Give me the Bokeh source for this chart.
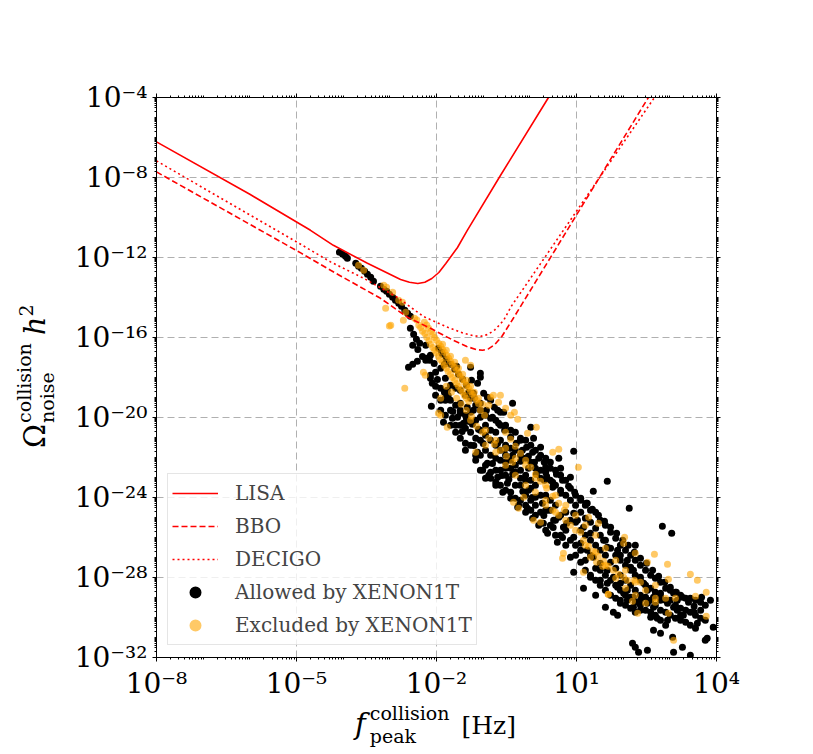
import numpy as np
from bokeh.plotting import figure
from bokeh.models import (FixedTicker, LogAxis, Legend, LegendItem, Div,
                          CustomJSTickFormatter, Range1d)
from bokeh.layouts import row, column
from bokeh.embed import file_html
from bokeh.resources import INLINE

# ---------------- data (log10 values) ----------------
lisa_log_f = [-8.0, -6.0, -4.70, -4.21, -3.48, -2.77, -2.58, -2.40, -2.25, -2.10, -1.95, -1.80, -1.55, -1.34, -0.63, 0.40]
lisa_log_omega = [-6.22, -8.84, -10.64, -11.39, -12.29, -13.10, -13.24, -13.30, -13.24, -13.05, -12.75, -12.30, -11.50, -10.64, -7.90, -4.0]

bbo_log_f = [-8.0, -4.91, -4.27, -3.20, -2.62, -2.13, -1.64, -1.35, -1.15, -1.01, -0.88, -0.75, -0.60, -0.37, 2.54]
bbo_log_omega = [-7.72, -11.77, -12.64, -14.04, -14.99, -15.54, -16.14, -16.45, -16.60, -16.64, -16.56, -16.35, -15.95, -15.10, -4.0]

decigo_log_f = [-8.0, -4.91, -4.27, -3.56, -2.84, -2.28, -1.76, -1.42, -1.20, -1.05, -0.90, -0.75, -0.56, -0.40, 2.67]
decigo_log_omega = [-7.17, -11.34, -12.22, -13.04, -13.99, -14.95, -15.49, -15.79, -15.92, -15.94, -15.85, -15.62, -15.14, -14.45, -4.0]

allowed_points = [
    (-4.08, -11.74), (-4.01, -11.84), (-3.95, -11.94), (-3.91, -12.04),
    (-3.73, -12.29), (-3.67, -12.44), (-3.61, -12.54), (-3.54, -12.69), (-3.48, -12.84), (-3.41, -12.99), (-3.35, -13.19),
    (-3.20, -13.44), (-3.13, -13.59), (-3.07, -13.69), (-3.01, -13.84), (-2.94, -13.99), (-2.88, -14.14), (-2.81, -14.29),
    (-2.75, -14.44), (-2.68, -14.64), (-2.62, -14.79), (-2.56, -14.94),
    (-2.56, -15.54), (-2.49, -15.84), (-2.43, -16.09), (-2.36, -16.29), (-2.51, -16.39), (-2.60, -17.49), (-2.51, -17.34),
    (-2.41, -17.19), (-2.21, -17.04), (-2.15, -17.14), (-2.13, -18.04), (-2.09, -18.29), (-2.02, -18.44), (-1.91, -18.54),
    (-1.83, -18.74), (-1.77, -18.64), (-2.11, -19.44), (-1.91, -19.64), (-1.85, -20.24),
    (-1.96, -16.54), (-1.87, -16.84), (-1.79, -17.09), (-1.70, -17.34), (-1.61, -17.59), (-1.53, -17.84), (-1.44, -18.09), (-1.36, -18.39),
    (-1.89, -16.74), (-1.83, -17.34), (-1.57, -17.44), (-1.27, -17.49), (-1.25, -18.14), (-1.12, -18.29), (-1.06, -17.99),
    (-0.99, -18.79), (-0.91, -18.99), (-0.84, -19.14), (-0.76, -19.49), (-0.69, -19.64), (-0.63, -19.74), (-1.21, -18.79),
    (-1.21, -19.64), (-1.06, -19.99), (-1.49, -19.29), (-1.34, -19.49), (-1.55, -19.99), (-1.42, -20.29),
    (-1.81, -19.14), (-1.70, -19.64), (-1.66, -20.04), (-1.59, -20.39), (-1.49, -21.04), (-1.38, -21.29), (-1.27, -20.74),
    (-1.12, -21.74), (-0.91, -22.29), (-0.84, -23.04), (-0.69, -22.99), (-0.48, -23.29), (-0.26, -24.49), (-0.05, -24.54), (0.29, -25.29),
    (-1.06, -17.79), (-0.37, -19.29), (-0.56, -19.74), (0.02, -20.49), (0.08, -21.04), (0.23, -21.49), (0.34, -22.49),
    (0.62, -22.04), (0.66, -22.54), (0.87, -22.99), (0.94, -21.69), (1.23, -24.29),
    (-1.06, -20.64), (-0.95, -20.89), (-0.84, -21.14), (-0.73, -21.39), (-0.63, -21.64), (-0.52, -21.89), (-0.41, -22.14),
    (-0.31, -22.39), (-0.20, -22.64), (-0.09, -22.89), (0.02, -23.14),
    (-1.49, -19.79), (-1.36, -20.04), (-1.23, -20.34), (-1.10, -20.59), (-0.69, -21.29), (-0.54, -21.59), (-0.37, -21.89),
    (-0.20, -22.19), (-0.03, -22.54), (0.14, -22.84), (0.31, -23.14), (0.49, -23.49), (0.66, -23.79),
    (-1.31, -18.74), (-1.19, -19.04), (-1.06, -19.29), (-0.93, -19.64), (-0.80, -19.99), (-0.67, -20.29), (-0.54, -20.64),
    (-0.41, -20.99), (-0.29, -21.29), (-0.16, -21.64), (-0.03, -21.94), (0.10, -22.24), (0.23, -22.64), (0.36, -22.94), (0.49, -23.24),
    (-0.63, -22.14), (-0.52, -22.54), (-0.37, -22.84), (-0.20, -23.39), (-0.03, -23.64), (0.12, -23.99), (0.27, -24.29),
    (0.44, -24.64), (0.62, -24.99), (0.79, -25.29),
    (-1.16, -22.14), (-1.01, -22.64), (-0.88, -22.89), (-0.73, -23.39), (-0.58, -23.74), (-0.41, -24.04), (-0.24, -24.39),
    (-0.09, -24.74), (0.06, -25.04), (0.19, -25.39),
    (-0.20, -21.14), (-0.07, -21.49), (0.06, -21.74), (0.19, -22.04), (0.31, -22.24), (0.44, -22.54), (0.57, -22.84),
    (0.70, -23.14), (0.83, -23.44), (0.96, -23.74), (1.09, -24.04), (1.21, -24.29), (1.34, -24.59), (1.47, -24.89),
    (1.60, -25.19), (1.73, -25.49), (1.86, -25.79), (1.99, -26.14), (2.11, -26.39), (2.24, -26.74), (2.37, -27.04),
    (2.50, -27.29), (2.63, -27.64), (2.76, -27.94), (2.89, -28.24), (3.01, -28.49), (3.14, -28.74), (3.27, -28.99),
    (3.40, -29.24), (3.52, -29.44), (3.66, -29.64),
    (0.38, -24.64), (0.51, -25.14), (0.72, -25.49), (0.94, -25.99), (1.09, -26.29), (1.23, -26.64), (1.36, -26.99),
    (1.51, -27.29), (1.66, -27.64), (1.79, -27.99), (1.94, -28.29), (2.09, -28.64), (2.22, -28.99), (2.37, -29.14),
    (2.52, -29.29), (2.65, -29.49), (2.80, -29.14), (2.95, -29.29), (3.08, -29.49), (3.16, -29.64), (3.23, -29.89),
    (0.94, -24.79), (1.02, -25.14), (1.15, -25.49), (1.30, -25.79), (1.58, -26.14), (1.66, -26.49), (1.88, -26.64),
    (1.94, -26.89), (2.09, -27.14), (2.16, -27.49), (2.22, -27.64), (2.37, -27.99), (2.44, -28.29), (2.52, -28.64),
    (2.65, -28.99), (2.80, -28.79), (3.08, -28.79), (3.16, -29.14),
    (0.23, -25.29), (0.38, -25.79), (0.59, -26.24), (0.87, -26.99), (0.94, -27.74), (1.15, -28.54), (1.41, -28.89),
    (1.30, -27.99), (1.51, -28.14), (1.66, -28.29), (1.88, -28.49), (2.01, -28.79), (2.09, -29.14), (1.94, -29.29),
    (2.22, -29.49), (2.37, -29.64),
    (2.13, -24.54), (2.84, -25.44), (3.04, -25.79), (2.26, -26.39), (3.68, -28.99), (1.62, -29.49), (1.79, -29.74),
    (1.88, -29.89), (2.59, -29.99), (2.73, -30.04), (2.95, -30.14), (3.29, -29.89), (3.59, -30.29), (3.93, -30.49),
    (2.65, -30.64), (2.80, -30.79), (3.06, -30.99), (3.27, -31.49), (2.20, -31.29), (2.26, -31.49), (2.33, -31.74),
    (2.52, -31.64), (3.08, -31.74), (3.44, -31.89), (3.76, -31.14), (3.80, -31.04), (1.66, -23.19), (1.36, -23.69),
    (3.87, -29.14), (3.52, -29.74),
    (-2.23, -16.39), (-2.23, -17.14), (-2.02, -17.74), (-2.02, -18.89), (-1.81, -18.04), (-1.81, -19.04), (-1.81, -19.89),
    (-1.59, -18.54), (-1.59, -19.39), (-1.59, -20.74), (-1.38, -18.89), (-1.38, -19.89), (-1.38, -20.54), (-1.38, -21.64),
    (-1.16, -19.39), (-1.16, -20.14), (-1.16, -21.04), (-1.16, -21.89), (-0.95, -19.89), (-0.95, -20.39), (-0.95, -21.64),
    (-0.95, -22.39), (-0.95, -23.04), (-0.73, -20.14), (-0.73, -20.74), (-0.73, -22.04), (-0.73, -22.64), (-0.73, -23.24),
    (-0.52, -20.39), (-0.52, -21.39), (-0.52, -22.24), (-0.52, -22.89), (-0.52, -23.64), (-0.31, -20.74), (-0.31, -21.64),
    (-0.31, -22.74), (-0.31, -23.39), (-0.31, -24.04), (-0.09, -21.14), (-0.09, -22.04), (-0.09, -23.14), (-0.09, -23.89),
    (-0.09, -24.39), (0.12, -21.64), (0.12, -22.54), (0.12, -23.39), (0.12, -24.39), (0.12, -24.89), (0.34, -22.04),
    (0.34, -22.74), (0.34, -23.89), (0.34, -24.64), (0.34, -25.64), (0.55, -22.64), (0.55, -23.39), (0.55, -24.39),
    (0.55, -25.14), (0.55, -25.89), (0.77, -23.14), (0.77, -23.89), (0.77, -24.74), (0.77, -25.64), (0.77, -26.39),
    (0.98, -23.89), (0.98, -24.39), (0.98, -25.24), (0.98, -26.39), (0.98, -26.89), (1.19, -24.39), (1.19, -25.04),
    (1.19, -25.89), (1.19, -27.14), (1.19, -27.64), (1.41, -24.74), (1.41, -25.54), (1.41, -26.39), (1.41, -27.54),
    (1.41, -28.14), (1.62, -25.39), (1.62, -26.14), (1.62, -26.89), (1.62, -27.89), (1.62, -28.64), (1.84, -26.04),
    (1.84, -26.89), (1.84, -27.54), (1.84, -28.39), (1.84, -29.04), (2.05, -26.64), (2.05, -27.39), (2.05, -28.14),
    (2.05, -28.89), (2.05, -29.39), (2.26, -27.14), (2.26, -27.89), (2.26, -28.64), (2.26, -29.24), (2.26, -29.74),
    (2.48, -27.64), (2.48, -28.39), (2.48, -28.99), (2.48, -29.64), (2.69, -28.04), (2.69, -28.74), (2.69, -29.39),
    (2.69, -29.89), (2.91, -28.54), (2.91, -29.14), (2.91, -29.74), (2.91, -30.39), (3.12, -28.74), (3.12, -29.39),
    (3.12, -30.04), (3.34, -29.04), (3.34, -29.64), (3.34, -30.24), (3.55, -29.14), (3.55, -29.89), (3.55, -30.54),
    (3.76, -29.39), (3.76, -30.14),
    (-2.13, -16.89), (-2.13, -17.89), (-1.91, -17.54), (-1.91, -19.14), (-1.70, -18.39), (-1.70, -19.14), (-1.70, -20.39),
    (-1.49, -18.64), (-1.49, -19.64), (-1.49, -20.39), (-1.27, -19.04), (-1.27, -19.74), (-1.27, -21.39), (-1.06, -19.64),
    (-1.06, -21.14), (-1.06, -21.89), (-1.06, -22.64), (-0.84, -20.04), (-0.84, -20.64), (-0.84, -21.89), (-0.84, -22.74),
    (-0.63, -20.39), (-0.63, -21.14), (-0.63, -22.64), (-0.63, -23.39), (-0.41, -20.64), (-0.41, -21.54), (-0.41, -22.54),
    (-0.41, -23.74), (-0.20, -21.04), (-0.20, -21.89), (-0.20, -23.04), (-0.20, -24.14), (0.02, -21.39), (0.02, -22.24),
    (0.02, -23.54), (0.02, -24.14), (0.02, -24.64), (0.23, -21.89), (0.23, -23.04), (0.23, -23.89), (0.23, -24.74),
    (0.44, -22.24), (0.44, -23.14), (0.44, -24.14), (0.44, -25.39), (0.66, -22.89), (0.66, -23.64), (0.66, -24.89),
    (0.66, -25.89), (0.87, -23.54), (0.87, -24.14), (0.87, -25.14), (0.87, -26.14), (1.09, -24.14), (1.09, -24.74),
    (1.09, -25.64), (1.09, -26.64), (1.09, -27.24), (1.30, -24.64), (1.30, -25.24), (1.30, -26.14), (1.30, -26.89),
    (1.30, -27.89), (1.51, -25.14), (1.51, -25.89), (1.51, -26.64), (1.51, -27.64), (1.51, -28.39), (1.73, -25.74),
    (1.73, -26.54), (1.73, -27.24), (1.73, -28.14), (1.73, -28.89), (1.94, -26.39), (1.94, -27.14), (1.94, -27.89),
    (1.94, -28.64), (1.94, -29.14), (2.16, -26.89), (2.16, -27.64), (2.16, -28.39), (2.16, -28.99), (2.16, -29.54),
    (2.37, -27.39), (2.37, -28.14), (2.37, -28.89), (2.37, -29.39), (2.59, -27.89), (2.59, -28.54), (2.59, -29.14),
    (2.59, -29.74), (2.80, -28.24), (2.80, -28.94), (2.80, -29.64), (2.80, -30.14), (3.01, -28.64), (3.01, -29.14),
    (3.01, -29.89), (3.23, -28.89), (3.23, -29.54), (3.23, -30.14), (3.44, -29.04), (3.44, -29.74), (3.44, -30.39),
    (3.66, -29.24), (3.66, -30.04),
    (-2.40, -16.60), (-2.30, -16.95), (-2.05, -17.30), (-1.98, -18.10), (-1.75, -18.90), (-1.65, -19.70),
    (-1.45, -20.70), (-1.30, -20.20), (-1.20, -21.40), (-1.00, -21.30), (-0.80, -22.30), (-0.60, -22.90),
    (-0.45, -23.10), (-0.15, -23.70), (0.05, -24.00), (0.30, -24.90), (0.50, -25.50), (0.70, -26.00),
]

excluded_points = [
    (-3.67, -12.39), (-3.56, -12.64), (-3.13, -13.39), (-3.07, -13.49), (-2.94, -13.74), (-2.81, -14.14), (-2.73, -14.24),
    (-2.66, -14.74), (-3.09, -14.54), (-3.01, -15.43), (-2.71, -15.14), (-2.68, -18.54), (-2.98, -15.39), (-2.28, -17.74),
    (-2.24, -17.89), (-1.91, -19.04), (-1.96, -19.79), (-1.38, -17.14), (-1.27, -17.39),
    (-2.47, -15.04), (-2.38, -15.39), (-2.30, -15.69), (-2.21, -15.99), (-2.13, -16.34), (-2.04, -16.64), (-1.96, -16.94),
    (-1.87, -17.24), (-1.79, -17.54), (-1.70, -17.84), (-1.61, -18.14), (-1.53, -18.44), (-1.44, -18.74), (-1.36, -19.04),
    (-2.26, -15.24), (-2.17, -15.54), (-2.08, -15.84), (-2.00, -16.14), (-1.91, -16.44), (-1.83, -16.74), (-1.74, -17.04),
    (-1.66, -17.34), (-1.57, -17.64), (-1.49, -17.94), (-1.40, -18.24), (-1.31, -18.54), (-1.23, -18.84), (-1.14, -19.14),
    (-1.87, -16.34), (-1.79, -16.64), (-1.70, -16.94), (-1.61, -17.24), (-1.53, -17.54), (-1.44, -17.84), (-1.36, -18.14),
    (-1.27, -18.44), (-1.19, -18.74), (-1.10, -19.04), (-1.01, -19.34), (-1.06, -19.64), (-0.97, -19.89),
    (-2.42, -15.12), (-2.34, -15.50), (-2.25, -15.80), (-2.16, -16.15), (-2.08, -16.50), (-2.00, -16.78), (-1.92, -17.10),
    (-1.83, -17.40), (-1.75, -17.70), (-1.66, -18.00), (-1.57, -18.30), (-1.48, -18.60), (-1.40, -18.90), (-1.31, -19.20),
    (-2.21, -15.38), (-2.12, -15.70), (-2.04, -16.00), (-1.95, -16.30), (-1.87, -16.60), (-1.78, -16.90), (-1.70, -17.20),
    (-1.62, -17.50), (-1.53, -17.80), (-1.45, -18.10), (-1.36, -18.40), (-1.27, -18.70), (-1.19, -19.00), (-1.10, -19.30),
    (-1.79, -18.44), (-1.68, -18.74), (-1.57, -19.04), (-1.47, -19.34), (-1.36, -19.64), (-1.25, -19.94),
    (-1.27, -20.14), (-1.14, -20.44), (-1.01, -20.74), (-0.88, -21.04), (-0.76, -21.34), (-0.63, -21.64), (-0.50, -21.94), (-0.37, -22.24),
    (-0.52, -20.74), (-0.41, -21.09), (-0.31, -21.44), (-0.20, -21.79), (-0.09, -22.14), (0.02, -22.49), (0.12, -22.84),
    (0.23, -23.19), (0.36, -23.54), (0.49, -23.94), (0.62, -24.29), (0.74, -24.64),
    (-0.78, -18.89), (-0.67, -19.24), (-0.52, -19.54), (-0.41, -19.89), (-0.88, -19.39),
    (0.34, -24.39), (0.49, -24.64), (0.62, -24.89), (1.15, -26.14), (1.26, -26.44), (1.36, -26.69), (1.47, -26.94),
    (1.58, -27.19), (1.68, -27.44), (1.79, -27.64), (1.90, -27.84), (2.01, -27.99), (1.30, -26.99), (1.43, -27.24),
    (1.56, -27.44), (1.09, -25.74), (0.87, -25.39), (2.09, -28.14), (2.24, -28.14), (2.37, -28.24),
    (1.47, -25.29), (1.26, -24.99), (2.03, -25.99), (2.01, -26.29), (2.26, -26.79), (2.67, -26.84), (2.52, -27.24),
    (2.95, -27.34), (2.97, -28.09), (3.44, -27.84), (3.59, -28.14), (3.55, -28.94), (3.78, -28.74), (3.78, -29.94),
    (1.68, -28.84), (1.68, -28.84), (2.20, -29.19), (2.31, -29.79), (2.69, -29.24), (2.97, -29.79), (3.08, -31.14),
    (0.72, -26.79), (1.15, -27.74), (0.70, -27.04), (0.49, -21.74), (0.62, -21.59), (1.04, -22.49), (-0.05, -20.79),
    (0.14, -20.49), (-0.26, -20.09), (-0.33, -19.74), (-1.77, -20.49), (-1.91, -19.89), (-1.16, -21.74),
    (-0.13, -23.99), (-0.35, -24.24), (-0.24, -24.54), (0.08, -25.14), (0.23, -25.24), (-0.63, -18.89), (-0.84, -18.99),
    (-0.95, -20.64), (-0.95, -21.39), (-0.73, -21.14), (-0.73, -21.74), (-0.52, -21.54), (-0.52, -22.39), (-0.31, -22.04),
    (-0.31, -22.89), (-0.09, -22.39), (-0.09, -23.39), (0.12, -23.04), (0.12, -23.74), (0.34, -23.39), (0.34, -24.14),
    (0.55, -23.89), (0.55, -24.74), (0.77, -24.39), (0.77, -25.14), (0.98, -24.89), (0.98, -25.64), (1.19, -25.39),
    (1.19, -26.39), (1.41, -25.89), (1.41, -26.74), (1.62, -26.54), (1.62, -27.39), (1.84, -27.14), (1.84, -28.04),
    (2.05, -27.64), (2.05, -28.54), (2.26, -28.24), (2.26, -28.89), (2.48, -28.64), (2.48, -29.29), (2.69, -28.39),
    (2.69, -29.04), (2.91, -29.04), (3.12, -29.04),
]

x_major = [1e-8, 1e-5, 1e-2, 1e1, 1e4]
y_major = [1e-32, 1e-28, 1e-24, 1e-20, 1e-16, 1e-12, 1e-8, 1e-4]
legend_labels = ["LISA", "BBO", "DECIGO", "Allowed by XENON1T", "Excluded by XENON1T"]

# ---------------- layout sizes ----------------
YLAB_W = 60            # width of the y-title column
XLAB_H = 52            # height of the x-title row
FL, FT, FW, FH = 156, 97, 560, 560
BORDER_L = FL - YLAB_W
BORDER_R = 90
BORDER_B = 45
FIG_W = BORDER_L + FW + BORDER_R
FIG_H = FT + FH + BORDER_B

p = figure(x_axis_type="log", y_axis_type="log",
           x_range=Range1d(1e-8, 1e4), y_range=Range1d(1e-32, 1e-4),
           frame_width=FW, frame_height=FH,
           min_border_left=BORDER_L, min_border_top=FT, min_border_right=BORDER_R, min_border_bottom=BORDER_B,
           output_backend="svg", toolbar_location=None, margin=(0, 0, 0, 0))
p.background_fill_color = "white"
p.border_fill_color = "white"
p.outline_line_color = "black"

def minor_list(lo, hi, majors):
    out = []
    for k in range(lo, hi):
        for m in range(1, 10):
            v = m * 10.0 ** k
            if m == 1 and any(abs(np.log10(v) - np.log10(t)) < 1e-9 for t in majors):
                continue
            out.append(v)
    return out

x_ticker = FixedTicker(ticks=x_major, minor_ticks=minor_list(-8, 4, x_major))
y_ticker = FixedTicker(ticks=y_major, minor_ticks=minor_list(-32, -4, y_major))

fmt = CustomJSTickFormatter(code="""
const sup = {"-":"\u207b","0":"\u2070","1":"\u00b9","2":"\u00b2","3":"\u00b3","4":"\u2074",
             "5":"\u2075","6":"\u2076","7":"\u2077","8":"\u2078","9":"\u2079"};
const e = Math.round(Math.log10(tick));
return "10" + String(e).split("").map(c => sup[c]).join("");
""")
blank_fmt = CustomJSTickFormatter(code="return ' ';")

def style_axis(ax, show_labels):
    ax.axis_line_color = "black"
    ax.axis_line_width = 1
    ax.major_tick_line_color = "black"
    ax.minor_tick_line_color = "black"
    ax.major_tick_in = 0
    ax.major_tick_out = 4
    ax.minor_tick_in = 0
    ax.minor_tick_out = 2
    ax.major_label_text_font = "DejaVu Serif"
    ax.major_label_text_font_size = "28px"
    ax.major_label_text_color = "black"
    ax.major_label_standoff = 5
    ax.formatter = fmt if show_labels else blank_fmt

p.xaxis.ticker = x_ticker
p.yaxis.ticker = y_ticker
style_axis(p.xaxis[0], True)
style_axis(p.yaxis[0], True)

top_ax = LogAxis(ticker=x_ticker)
right_ax = LogAxis(ticker=y_ticker)
style_axis(top_ax, False)
style_axis(right_ax, False)
p.add_layout(top_ax, "above")
p.add_layout(right_ax, "right")

p.xgrid.ticker = FixedTicker(ticks=x_major)
p.ygrid.ticker = FixedTicker(ticks=y_major)
for g in (p.xgrid, p.ygrid):
    g.grid_line_color = "#b0b0b0"
    g.grid_line_dash = "7 4"
    g.grid_line_width = 1

# scatter
af = [10.0 ** a for a, b in allowed_points]
ao = [10.0 ** b for a, b in allowed_points]
ef = [10.0 ** a for a, b in excluded_points]
eo = [10.0 ** b for a, b in excluded_points]
r_allowed = p.scatter(af, ao, size=7, color="black", line_color=None)
r_excluded = p.scatter(ef, eo, size=7, fill_color="#ffa500", fill_alpha=0.6, line_color=None)

# curves
r_lisa = p.line([10.0 ** v for v in lisa_log_f], [10.0 ** v for v in lisa_log_omega],
                line_color="red", line_width=1.6)
r_bbo = p.line([10.0 ** v for v in bbo_log_f], [10.0 ** v for v in bbo_log_omega],
               line_color="red", line_width=1.6, line_dash="6 3")
r_decigo = p.line([10.0 ** v for v in decigo_log_f], [10.0 ** v for v in decigo_log_omega],
                  line_color="red", line_width=1.6, line_dash="2 3")

legend = Legend(items=[
    LegendItem(label=legend_labels[0], renderers=[r_lisa]),
    LegendItem(label=legend_labels[1], renderers=[r_bbo]),
    LegendItem(label=legend_labels[2], renderers=[r_decigo]),
    LegendItem(label=legend_labels[3], renderers=[r_allowed]),
    LegendItem(label=legend_labels[4], renderers=[r_excluded]),
], location=(11, 12))
legend.label_text_font = "DejaVu Serif"
legend.label_text_font_size = "20px"
legend.glyph_width = 46
legend.glyph_height = 30
legend.label_height = 30
legend.label_standoff = 17
legend.spacing = 3
legend.padding = 4
legend.margin = 0
legend.border_line_color = "#cccccc"
legend.border_line_width = 1
legend.background_fill_alpha = 0.8
p.add_layout(legend, "center")

# ---------------- axis titles (HTML text with stacked super/subscripts) ----------------
FONT = "font-family:'DejaVu Serif',serif;color:black;white-space:nowrap;line-height:1;"
stack = "display:inline-block;font-size:19px;line-height:23px;vertical-align:-9px;text-align:left;"

y_html = (
    f"<div style=\"padding-top:448px;padding-left:13px;\">"
    f"<div style=\"{FONT}font-size:29px;width:max-content;transform:rotate(-90deg);transform-origin:0 0;\">"
    f"\u03a9<span style=\"{stack}margin-left:1px;\">collision<br>noise</span>"
    f"<span style=\"margin-left:8px;font-style:italic;\">h</span>"
    f"<span style=\"font-size:19px;vertical-align:12px;\">2</span>"
    f"</div></div>"
)
x_html = (
    f"<div style=\"padding-left:355px;padding-top:0px;\">"
    f"<div style=\"{FONT}font-size:29px;width:max-content;\">"
    f"<span style=\"font-style:italic;\">f</span>"
    f"<span style=\"{stack}margin-left:4px;\">collision<br>peak</span>"
    f"<span style=\"margin-left:12px;font-size:25px;\">[Hz]</span>"
    f"</div></div>"
)

ydiv = Div(text=y_html, width=YLAB_W, height=FIG_H, margin=(0, 0, 0, 0))
xdiv = Div(text=x_html, width=YLAB_W + FIG_W, height=XLAB_H, margin=(0, 0, 0, 0))

layout = column(row(ydiv, p, spacing=0), xdiv, spacing=0)

open("out.html", "w").write(file_html(layout, INLINE))
